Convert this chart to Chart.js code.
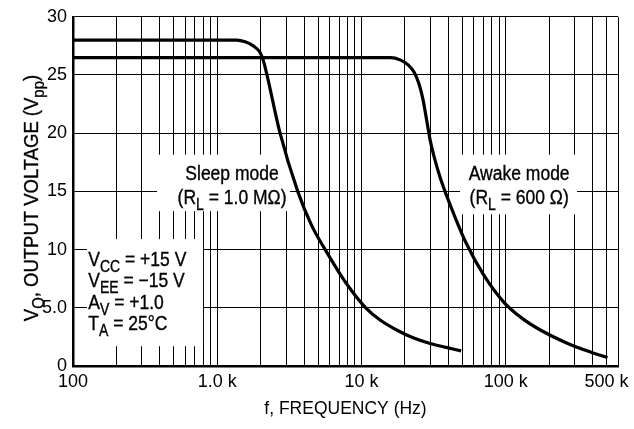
<!DOCTYPE html>
<html><head><meta charset="utf-8">
<script src="https://cdn.jsdelivr.net/npm/chart.js@4.4.1/dist/chart.umd.min.js"></script>
<style>html,body{margin:0;padding:0;background:#fff}#wrap{width:634px;height:429px}</style>
</head><body><div id="wrap"><canvas id="c" width="634" height="429"></canvas></div>
<script>
const FONT = "'Liberation Sans', Arial, Helvetica, sans-serif";
// Sleep mode (RL = 1.0 MOhm)
const sleepFreq = [100, 1000, 1365, 1560, 1778, 1981, 2088, 2205, 2726, 3614, 4500, 5600, 7945, 10700, 13459, 17659, 22796, 29906, 38607, 49050];
const sleepVpp  = [28.0, 28.0, 28.0, 27.85, 27.5, 26.93, 26.23, 25.08, 20.0, 15.0, 12.1, 10.0, 7.0, 5.0, 3.95, 3.07, 2.42, 1.93, 1.6, 1.3];
// Awake mode (RL = 600 Ohm)
const awakeFreq = [100, 10000, 15970, 18520, 21050, 23170, 25090, 26740, 28280, 29900, 32130, 35090, 38610, 43380, 52900, 70800, 97500, 130000, 175000, 266600, 389000, 507000];
const awakeVpp  = [26.5, 26.5, 26.5, 26.3, 25.87, 25.23, 24.2, 22.84, 21.14, 19.43, 17.81, 16.19, 14.74, 13.13, 10.61, 7.76, 5.45, 4.09, 3.07, 1.96, 1.19, 0.72];
// axis ticks
const xLabelTicks = [100, 1000, 10000, 100000, 500000];
const xLabelText  = ["100", "1.0 k", "10 k", "100 k", "500 k"];
const yTickValues = [0, 5, 10, 15, 20, 25, 30];
const yTickText   = ["0", "5.0", "10", "15", "20", "25", "30"];
const xMin = 100, xMax = 600000;

function gridTicks(){
  const t=[];
  for(let d=100; d<=100000; d*=10){ for(let m=1;m<=9;m++){ const v=m*d; if(v<=xMax) t.push(v);} }
  t.push(200000,300000,400000,500000,600000);
  return [...new Set(t)].sort((a,b)=>a-b).map(v=>({value:v}));
}

// rich text with subscripts, horizontally condensed by sx
function drawRich(ctx, parts, x, y, size, align, sx){
  const subSize = Math.round(size*0.8);
  let w=0;
  parts.forEach(p=>{ ctx.font = (p.sub?subSize:size)+"px "+FONT; w+=ctx.measureText(p.t).width; });
  ctx.save();
  ctx.translate(x, y);
  ctx.scale(sx, 1);
  let cx = align==='center'? -w/2 : 0;
  ctx.textAlign='left'; ctx.textBaseline='alphabetic';
  ctx.strokeStyle='#000'; ctx.lineWidth=0.35;
  parts.forEach(p=>{ ctx.font=(p.sub?subSize:size)+"px "+FONT; const dy=(p.sub?Math.round(size*0.28):0);
    ctx.fillText(p.t, cx, dy); ctx.strokeText(p.t, cx, dy); cx+=ctx.measureText(p.t).width; });
  ctx.restore();
}

// annotation anchors in data units (frequency, volts)
const boxes = [
  {f0:125, f1:797, v0:10.9, v1:1.7},
  {f0:382, f1:3195, v0:18.16, v1:13.3},
  {f0:48200, f1:312000, v0:18.16, v1:13.04}
];
const notes = [
  {f:127.6, v:8.58, align:'left', parts:[{t:'V'},{t:'CC',sub:1},{t:' = +15 V'}]},
  {f:127.6, v:6.79, align:'left', parts:[{t:'V'},{t:'EE',sub:1},{t:' = \u221215 V'}]},
  {f:127.6, v:4.88, align:'left', parts:[{t:'A'},{t:'V',sub:1},{t:' = +1.0'}]},
  {f:127.6, v:3.09, align:'left', parts:[{t:'T'},{t:'A',sub:1},{t:' = 25\u00B0C'}]},
  {f:1266, v:16.0, align:'center', parts:[{t:'Sleep mode'}]},
  {f:1266, v:13.9, align:'center', parts:[{t:'(R'},{t:'L',sub:1},{t:' = 1.0 M\u03A9)'}]},
  {f:123900, v:16.0, align:'center', parts:[{t:'Awake mode'}]},
  {f:123900, v:13.9, align:'center', parts:[{t:'(R'},{t:'L',sub:1},{t:' = 600 \u03A9)'}]}
];

const annotPlugin = {
  id:'annot',
  beforeDatasetsDraw(chart){
    const {ctx, scales:{x,y}} = chart;
    ctx.save();
    ctx.fillStyle='#fff';
    boxes.forEach(b=>{
      const x0=x.getPixelForValue(b.f0), x1=x.getPixelForValue(b.f1);
      const y0=y.getPixelForValue(b.v0), y1=y.getPixelForValue(b.v1);
      ctx.fillRect(x0,y0,x1-x0,y1-y0);
    });
    ctx.fillStyle='#000';
    notes.forEach(n=>drawRich(ctx, n.parts, x.getPixelForValue(n.f), y.getPixelForValue(n.v), 20, n.align, 0.875));
    ctx.restore();
  },
  afterDraw(chart){
    const {ctx} = chart;
    ctx.save();
    ctx.fillStyle='#000';
    ctx.translate(38, 198);
    ctx.rotate(-Math.PI/2);
    drawRich(ctx, [{t:'V'},{t:'O',sub:1},{t:', OUTPUT VOLTAGE (V'},{t:'pp',sub:1},{t:')'}], 0, 0, 21, 'center', 0.88);
    ctx.restore();
  }
};

const toPts=(fs,vs)=>fs.map((f,i)=>({x:f,y:vs[i]}));

new Chart(document.getElementById('c'), {
  type:'line',
  data:{datasets:[
    {label:'Sleep mode', data:toPts(sleepFreq,sleepVpp), borderColor:'#000', borderWidth:3.2, pointRadius:0, cubicInterpolationMode:'monotone', fill:false},
    {label:'Awake mode', data:toPts(awakeFreq,awakeVpp), borderColor:'#000', borderWidth:3.2, pointRadius:0, cubicInterpolationMode:'monotone', fill:false}
  ]},
  options:{
    responsive:false, animation:false, devicePixelRatio:1,
    layout:{padding:{left:0,right:16,top:14,bottom:0}},
    plugins:{legend:{display:false}, tooltip:{enabled:false}},
    scales:{
      x:{type:'logarithmic', min:xMin, max:xMax,
        afterBuildTicks(s){ s.ticks = gridTicks(); },
        afterFit(s){ s.height = 63; s.paddingLeft=0; s.paddingRight=0; },
        ticks:{autoSkip:false, maxRotation:0, minRotation:0, padding:5, color:'#000',
          font:{family:FONT, size:18},
          callback(v){ const i=xLabelTicks.indexOf(v); return i>=0? xLabelText[i] : ''; }},
        grid:{color:'#000', lineWidth:1, drawTicks:false, tickLength:0},
        border:{color:'#000', width:2.5},
        title:{display:true, text:'f, FREQUENCY (Hz)', color:'#000', font:{family:FONT, size:17.5}, padding:{top:4,bottom:9}}
      },
      y:{min:0, max:30,
        afterBuildTicks(s){ s.ticks = yTickValues.map(v=>({value:v})); },
        afterFit(s){ s.width = 73; },
        ticks:{padding:6, color:'#000', font:{family:FONT, size:18},
          callback(v){ const i=yTickValues.indexOf(v); return i>=0? yTickText[i] : ''; }},
        grid:{color:'#000', lineWidth:1, drawTicks:false, tickLength:0},
        border:{color:'#000', width:2.5}
      }
    }
  },
  plugins:[annotPlugin]
});
</script></body></html>
